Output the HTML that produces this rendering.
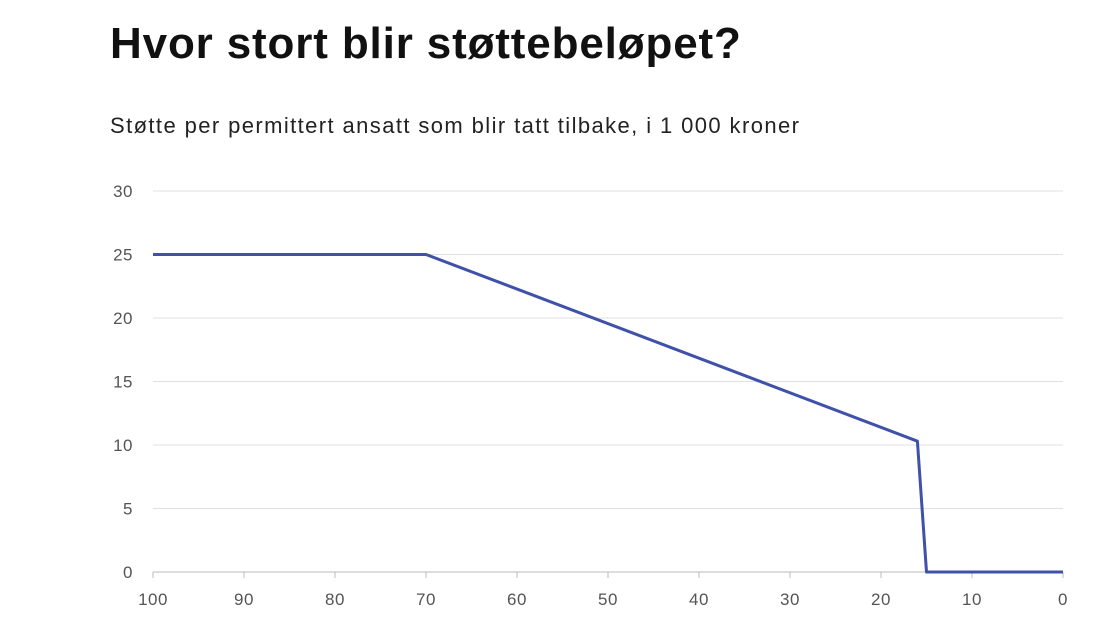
<!DOCTYPE html>
<html><head><meta charset="utf-8"><style>
body{margin:0;background:#fff;width:1120px;height:622px;overflow:hidden;font-family:"Liberation Sans",sans-serif}
h1{position:absolute;left:110px;top:19px;margin:0;font-size:44px;letter-spacing:0.85px;font-weight:bold;color:#111;white-space:nowrap}
.sub{position:absolute;left:110px;top:113px;font-size:22px;letter-spacing:1.4px;color:#222;white-space:nowrap}
svg{position:absolute;left:0;top:0}
</style></head><body>
<h1>Hvor stort blir støttebeløpet?</h1>
<div class="sub">Støtte per permittert ansatt som blir tatt tilbake, i 1 000 kroner</div>
<svg id="c" width="1120" height="622"></svg>
<script>
const xVals=[100,70,16,15,0];
const yVals=[25,25,10.3,0,0];
const yTicks=[0,5,10,15,20,25,30];
const xTicks=[100,90,80,70,60,50,40,30,20,10,0];
const NS="http://www.w3.org/2000/svg";
const svg=document.getElementById('c');
const X=v=>1063-(v/100)*910;
const Y=v=>572-(v/30)*381;
function mk(t,a){const e=document.createElementNS(NS,t);for(const k in a)e.setAttribute(k,a[k]);svg.appendChild(e);return e;}
yTicks.forEach(t=>{
 const l=mk('line',{x1:153,x2:1063,y1:Y(t),y2:Y(t),stroke:t===0?'#bbb':'#e0e0e0','stroke-width':1});
 
 
 const tx=mk('text',{x:133,y:Y(t)+6,'text-anchor':'end','font-size':17,'letter-spacing':0.5,fill:'#555','font-family':'Liberation Sans, sans-serif'});
 tx.textContent=t;
 
 
});
xTicks.forEach(t=>{
 const l=mk('line',{x1:X(t),x2:X(t),y1:572,y2:578,stroke:'#bbb','stroke-width':1});
 
 
 const tx=mk('text',{x:X(t),y:605,'text-anchor':'middle','font-size':17,'letter-spacing':0.5,fill:'#555','font-family':'Liberation Sans, sans-serif'});
 tx.textContent=t;
 
 
});
const p=mk('polyline',{points:xVals.map((x,i)=>X(x)+','+Y(yVals[i])).join(' '),fill:'none',stroke:'#3f51a8','stroke-width':3,'stroke-linejoin':'round'});


</script>
</body></html>
